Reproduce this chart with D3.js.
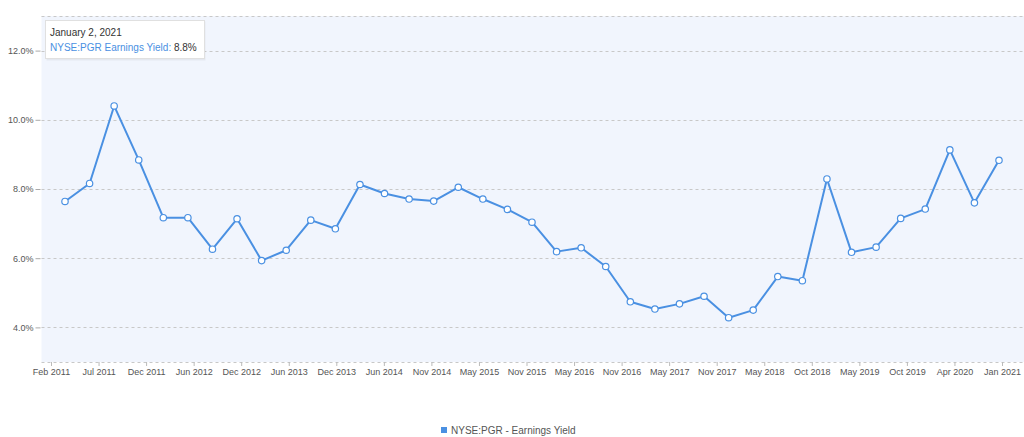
<!DOCTYPE html>
<html>
<head>
<meta charset="utf-8">
<script src="https://cdn.jsdelivr.net/npm/d3@7/dist/d3.min.js"></script>
<style>
  html, body { margin: 0; padding: 0; background: #fff; }
  svg { display: block; font-family: "Liberation Sans", Arial, sans-serif; }
</style>
</head>
<body>
<svg id="chart" width="1024" height="437"></svg>
<script>
// ---- data ----
const seriesName = "NYSE:PGR - Earnings Yield";
const earningsYield = [
  7.64, 8.16, 10.40, 8.84, 7.17, 7.17, 6.26, 7.14, 5.93, 6.23,
  7.10, 6.85, 8.13, 7.87, 7.71, 7.65, 8.05, 7.71, 7.41, 7.04,
  6.19, 6.30, 5.76, 4.74, 4.53, 4.68, 4.90, 4.28, 4.50, 5.47,
  5.35, 8.29, 6.17, 6.32, 7.15, 7.42, 9.13, 7.60, 8.83
];
const xTickLabels = [
  "Feb 2011", "Jul 2011", "Dec 2011", "Jun 2012", "Dec 2012", "Jun 2013",
  "Dec 2013", "Jun 2014", "Nov 2014", "May 2015", "Nov 2015", "May 2016",
  "Nov 2016", "May 2017", "Nov 2017", "May 2018", "Oct 2018", "May 2019",
  "Oct 2019", "Apr 2020", "Jan 2021"
];
const yTicks = [4, 6, 8, 10, 12];
const tooltipDate = "January 2, 2021";
const tooltipLabel = "NYSE:PGR Earnings Yield:";
const tooltipValue = "8.8%";

// ---- layout ----
const svg = d3.select("#chart");
const plot = { left: 41.5, right: 1024, top: 16, bottom: 362 };
const lineColor = "#4a90e2";

const y = d3.scaleLinear().domain([3, 13]).range([plot.bottom, plot.top]);
const x = d3.scaleLinear().domain([0, earningsYield.length - 1]).range([65, 999]);
const xt = d3.scalePoint().domain(xTickLabels).range([51, 1002]);

// plot background
svg.append("rect")
  .attr("x", plot.left).attr("y", plot.top)
  .attr("width", plot.right - plot.left).attr("height", plot.bottom - plot.top)
  .attr("fill", "#f1f5fd");

// horizontal grid lines (top/bottom borders + ticks)
const gridVals = [13].concat(yTicks).concat([3]);
svg.append("g").selectAll("line").data(gridVals).join("line")
  .attr("x1", plot.left).attr("x2", plot.right)
  .attr("y1", d => Math.round(y(d)) + 0.5).attr("y2", d => Math.round(y(d)) + 0.5)
  .attr("stroke", "#c8c8c8").attr("stroke-width", 1)
  .attr("stroke-dasharray", "3,3");

// y axis
const yAxis = d3.axisLeft(y).tickValues(yTicks)
  .tickFormat(d => d3.format(".1f")(d) + "%")
  .tickSize(5).tickPadding(2);
const gy = svg.append("g").attr("transform", `translate(${plot.left - 1},0)`).call(yAxis);
gy.select(".domain").remove();
gy.selectAll(".tick line").attr("stroke", "#aaa");
gy.selectAll(".tick text").attr("fill", "#555").style("font-size", "9px")
  .style("font-family", "'Liberation Sans', Arial, sans-serif");

// x axis
const xAxis = d3.axisBottom(xt).tickSize(4).tickPadding(3);
const gx = svg.append("g").attr("transform", `translate(0,${plot.bottom})`).call(xAxis);
gx.select(".domain").remove();
gx.selectAll(".tick line").attr("stroke", "#bbb").attr("transform", "translate(0,0)");
gx.selectAll(".tick text").attr("fill", "#555").style("font-size", "9px")
  .style("font-family", "'Liberation Sans', Arial, sans-serif");

// line
const line = d3.line().x((d, i) => x(i)).y(d => y(d));
svg.append("path").datum(earningsYield)
  .attr("d", line)
  .attr("fill", "none").attr("stroke", lineColor)
  .attr("stroke-width", 2).attr("stroke-linejoin", "round");

// markers
svg.append("g").selectAll("circle").data(earningsYield).join("circle")
  .attr("cx", (d, i) => x(i)).attr("cy", d => y(d))
  .attr("r", 3.2)
  .attr("fill", "#fff").attr("stroke", lineColor).attr("stroke-width", 1.2);

// tooltip
const tip = svg.append("g").attr("transform", "translate(45.5,20.5)");
tip.append("rect").attr("x", 1).attr("y", 1).attr("width", 159).attr("height", 39)
  .attr("fill", "#000").attr("opacity", 0.05);
tip.append("rect").attr("width", 159).attr("height", 38)
  .attr("fill", "#fff").attr("stroke", "#e0e0e0");
tip.append("text").attr("x", 4.5).attr("y", 15)
  .attr("fill", "#333").style("font-size", "10px").text(tooltipDate);
const t2 = tip.append("text").attr("x", 4.5).attr("y", 30).style("font-size", "10px");
t2.append("tspan").attr("fill", lineColor).text(tooltipLabel + " ");
t2.append("tspan").attr("fill", "#333").text(tooltipValue);

// legend
const lg = svg.append("g").attr("transform", "translate(441,427)");
lg.append("rect").attr("width", 6).attr("height", 6).attr("fill", lineColor);
lg.append("text").attr("x", 10).attr("y", 6.5)
  .attr("fill", "#555").style("font-size", "10px").text(seriesName);
</script>
</body>
</html>
